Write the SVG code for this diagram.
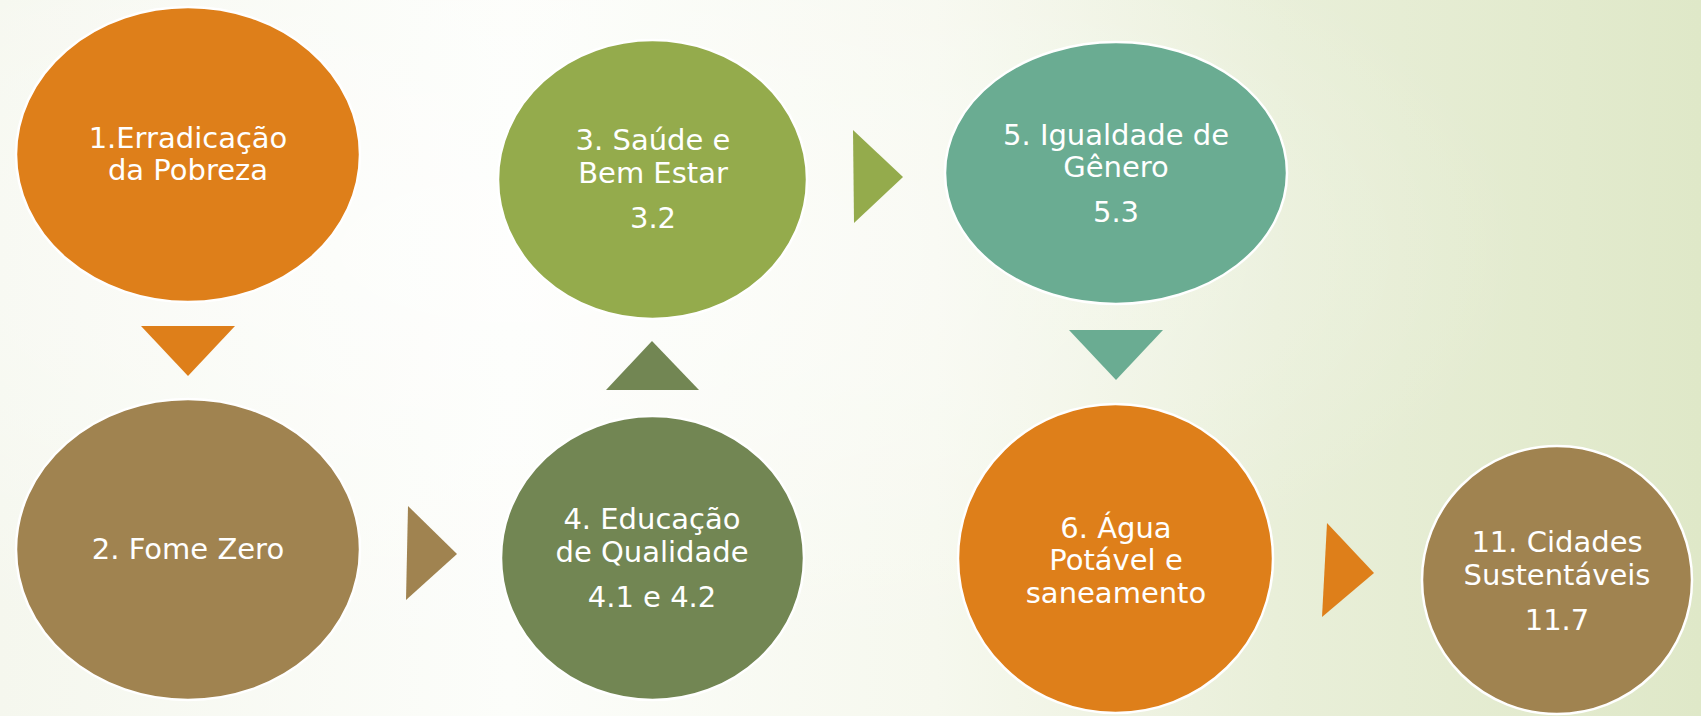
<svg xmlns="http://www.w3.org/2000/svg" width="1701" height="716" viewBox="0 0 1701 716">
<defs>
<linearGradient id="bg" x1="0" y1="0" x2="1" y2="0">
<stop offset="0" stop-color="#F5F7EE"/>
<stop offset="0.3" stop-color="#FCFDFA"/>
<stop offset="0.55" stop-color="#F6F8EE"/>
<stop offset="0.75" stop-color="#E9EFD9"/>
<stop offset="1" stop-color="#DFE8C8"/>
</linearGradient>
<radialGradient id="bg2" cx="0.3" cy="0.35" r="0.6">
<stop offset="0" stop-color="#FFFFFF" stop-opacity="0.6"/>
<stop offset="1" stop-color="#FFFFFF" stop-opacity="0"/>
</radialGradient>
<style>
.node ellipse { stroke: #FFFFFF; stroke-width: 2.5; }
.lbl { font-family: "DejaVu Sans", "Liberation Sans", sans-serif; font-size: 29px; fill: #FFFFFF; text-anchor: middle; }
.orange { fill: #DE7F1A; }
.brown { fill: #A08350; }
.lgreen { fill: #94AB4C; }
.dgreen { fill: #728653; }
.teal { fill: #6AAC92; }
</style>
</defs>
<rect x="0" y="0" width="1701" height="716" fill="url(#bg)"/>
<rect x="0" y="0" width="1701" height="716" fill="url(#bg2)"/>

<g id="connectors">
<polygon class="orange" points="141,326 235,326 188,376"/>
<polygon class="brown" points="408,506 457,554 406,600"/>
<polygon class="dgreen" points="606,390 699,390 652,341"/>
<polygon class="lgreen" points="853,130 903,177 854,223"/>
<polygon class="teal" points="1069,330 1163,330 1116,380"/>
<polygon class="orange" points="1327,523 1374,573 1322,617"/>
</g>

<g id="n1" class="node">
<ellipse class="orange" cx="188" cy="154.5" rx="172" ry="147.5"/>
<text class="lbl" x="188" y="148">1.Erradicação</text>
<text class="lbl" x="188" y="180">da Pobreza</text>
</g>

<g id="n2" class="node">
<ellipse class="brown" cx="188" cy="549.5" rx="172" ry="150.5"/>
<text class="lbl" x="188" y="559">2. Fome Zero</text>
</g>

<g id="n3" class="node">
<ellipse class="lgreen" cx="652.5" cy="179.5" rx="154.5" ry="139.5"/>
<text class="lbl" x="653" y="150">3. Saúde e</text>
<text class="lbl" x="653" y="183">Bem Estar</text>
<text class="lbl" x="653" y="228">3.2</text>
</g>

<g id="n4" class="node">
<ellipse class="dgreen" cx="652.5" cy="558" rx="151.5" ry="142"/>
<text class="lbl" x="652" y="529">4. Educação</text>
<text class="lbl" x="652" y="562">de Qualidade</text>
<text class="lbl" x="652" y="607">4.1 e 4.2</text>
</g>

<g id="n5" class="node">
<ellipse class="teal" cx="1116" cy="173" rx="171" ry="131"/>
<text class="lbl" x="1116" y="145">5. Igualdade de</text>
<text class="lbl" x="1116" y="177">Gênero</text>
<text class="lbl" x="1116" y="222">5.3</text>
</g>

<g id="n6" class="node">
<ellipse class="orange" cx="1115.5" cy="558.5" rx="157.5" ry="154.5"/>
<text class="lbl" x="1116" y="538">6. Água</text>
<text class="lbl" x="1116" y="570">Potável e</text>
<text class="lbl" x="1116" y="603">saneamento</text>
</g>

<g id="n11" class="node">
<ellipse class="brown" cx="1557" cy="580" rx="135" ry="134"/>
<text class="lbl" x="1557" y="552">11. Cidades</text>
<text class="lbl" x="1557" y="585">Sustentáveis</text>
<text class="lbl" x="1557" y="630">11.7</text>
</g>
</svg>
